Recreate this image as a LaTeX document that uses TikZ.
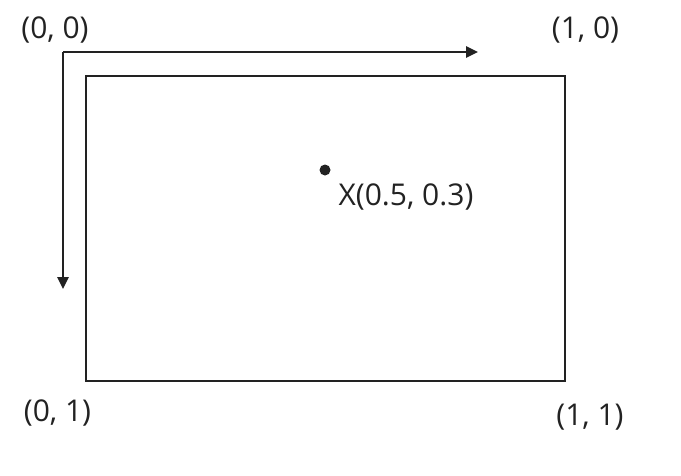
\documentclass[tikz,border=0pt]{standalone}
\usepackage{fontspec}
\setmainfont{Open Sans}
\usetikzlibrary{arrows.meta}
\definecolor{ink}{HTML}{222222}
\tikzset{
  lbl/.style={text=ink, font=\fontsize{22.5}{27}\selectfont, inner sep=0pt, anchor=center},
  axis/.style={draw=ink, line width=1.6pt, -{Triangle[length=9pt,width=8.5pt]}},
  frame/.style={draw=ink, line width=1.6pt}
}
\begin{document}
\begin{tikzpicture}[x=0.75pt,y=-0.75pt]
\useasboundingbox (0,0) rectangle (681,475);
\coordinate (o) at (63,52);
\coordinate (xe) at (478,52);
\coordinate (ye) at (63,289);
\coordinate (tl) at (86,76);
\coordinate (br) at (565,381);
\draw[axis] (o) -- (xe);
\draw[axis] (o) -- (ye);
\draw[frame] (tl) rectangle (br);
\fill[ink] (325,170) circle (5.5);
\node[lbl] (p00) at (55,30) {(0, 0)};
\node[lbl] (p10) at (585.5,30) {(1, 0)};
\node[lbl] (p01) at (57.5,413) {(0, 1)};
\node[lbl] (p11) at (590,417) {(1, 1)};
\node[lbl] (px) at (406,197) {X(0.5, 0.3)};
\end{tikzpicture}
\end{document}
